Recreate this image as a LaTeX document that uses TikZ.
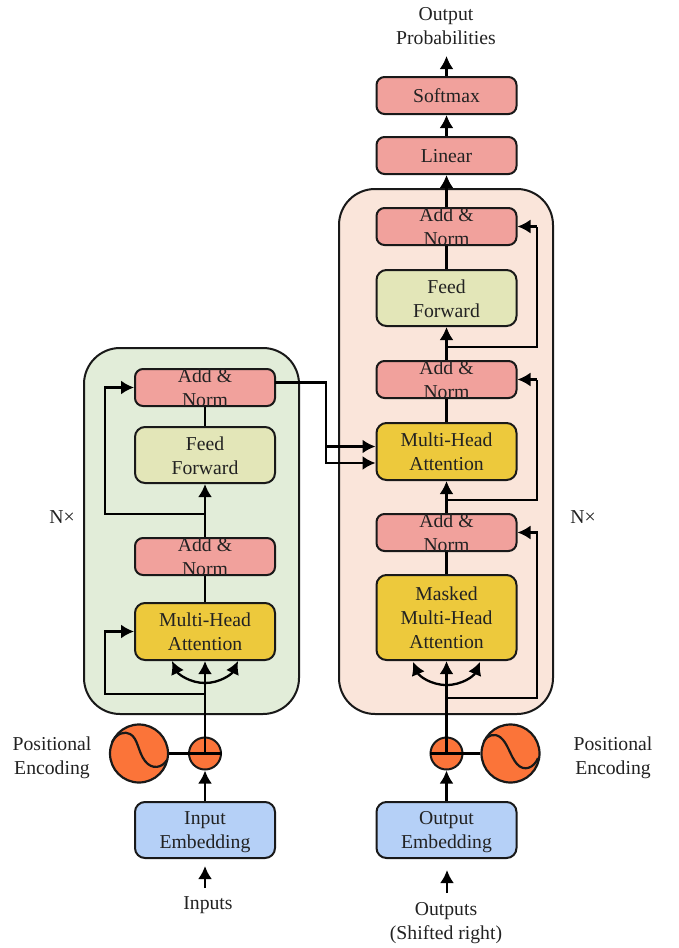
\documentclass[tikz,border=0pt]{standalone}
\usepackage{fontspec}
\setmainfont{Liberation Serif}
\usetikzlibrary{arrows.meta,calc}
\definecolor{greenbg}{HTML}{E2EDD9}
\definecolor{peachbg}{HTML}{FAE5DA}
\definecolor{rednorm}{HTML}{F1A19C}
\definecolor{ffcol}{HTML}{E3E6B8}
\definecolor{attcol}{HTML}{EDC93C}
\definecolor{embcol}{HTML}{B5D0F7}
\definecolor{orangec}{HTML}{FB7439}
\definecolor{txt}{HTML}{222222}
\newcommand{\topst}{\rule{0pt}{18pt}}
\newcommand{\botst}{\rule[-4pt]{0pt}{4pt}}
\tikzset{
  base/.style={draw=black!90,line width=2pt,rounded corners=8pt,minimum width=140pt,
    align=center,font=\fontsize{19.7}{24}\selectfont,text=txt,inner sep=0pt,anchor=center},
  normbox/.style={base,fill=rednorm,minimum height=37pt,inner ysep=-6pt},
  ffbox/.style={base,fill=ffcol,minimum height=56pt,rounded corners=10pt},
  attbox/.style={base,fill=attcol,minimum height=57pt,rounded corners=10pt},
  embbox/.style={base,fill=embcol,minimum height=56pt,rounded corners=10pt},
  region/.style={draw=black!90,line width=2pt,rounded corners=36pt},
  lab/.style={align=center,font=\fontsize{19.7}{24}\selectfont,text=txt,inner sep=0pt},
  conn/.style={draw=black,line width=2.8pt},
  thin/.style={draw=black,line width=2.3pt},
  hair/.style={draw=black,line width=2.4pt},
  arr/.style={conn,-{Latex[length=13pt,width=14pt]}},
  arrs/.style={thin,-{Latex[length=13pt,width=14pt]}},
  addc/.style={circle,draw=black!90,line width=2pt,fill=orangec,minimum size=32pt,inner sep=0pt},
  sinec/.style={circle,draw=black!90,line width=2.2pt,fill=orangec,minimum size=58pt,inner sep=0pt},
}
\begin{document}
\begin{tikzpicture}[x=1pt,y=-1pt]
\useasboundingbox (0,0) rectangle (678,948);
\fill[white] (0,0) rectangle (678,948);
\draw[region,fill=greenbg] (84,348) rectangle (299,714);
\draw[region,fill=peachbg] (339,189) rectangle (553,714);

% left column
\node[normbox] (lan2) at (205,387.5) {\topst Add \&\\Norm\botst};
\node[ffbox] (lff) at (205,455) {\topst Feed\\Forward\botst};
\node[normbox] (lan1) at (205,556.5) {\topst Add \&\\Norm\botst};
\node[attbox] (lma) at (205,631.5) {\topst Multi-Head\\Attention\botst};
\node[embbox] (lemb) at (205,830) {\topst Input\\Embedding\botst};
\node[addc] (ladd) at (205,753.5) {};
\node[sinec] (lsin) at (139,753.5) {};
\node[lab] (linp) at (208,903) {\topst Inputs\botst};
\node[lab] (lpos) at (52,756) {\topst Positional\\Encoding\botst};
\node[lab] (lnx) at (62,516) {\topst N×\botst};

% right column
\node[normbox] (soft) at (446.5,95.5) {\topst Softmax\botst};
\node[normbox] (lin) at (446.5,155.5) {\topst Linear\botst};
\node[normbox] (ran3) at (446.5,226.5) {\topst Add \&\\Norm\botst};
\node[ffbox] (rff) at (446.5,298) {\topst Feed\\Forward\botst};
\node[normbox] (ran2) at (446.5,379.5) {\topst Add \&\\Norm\botst};
\node[attbox] (rma) at (446.5,451.5) {\topst Multi-Head\\Attention\botst};
\node[normbox] (ran1) at (446.5,532.5) {\topst Add \&\\Norm\botst};
\node[attbox,minimum height=85pt] (rmm) at (446.5,617.5) {\topst Masked\\Multi-Head\\Attention\botst};
\node[embbox] (remb) at (446.5,830) {\topst Output\\Embedding\botst};
\node[addc] (radd) at (446.5,753.5) {};
\node[sinec] (rsin) at (510.5,753.5) {};
\node[lab] (routp) at (446,921) {\topst Outputs\\(Shifted right)\botst};
\node[lab] (rpos) at (613,756) {\topst Positional\\Encoding\botst};
\node[lab] (rnx) at (583,516) {\topst N×\botst};
\node[lab] (prob) at (446,25) {\topst Output\\Probabilities\botst};

% free ends
\coordinate (linpt) at (205,888);
\coordinate (rinpt) at (447,893);
\coordinate (probb) at (446.5,56);
\coordinate (lbr) at (205,694);
\coordinate (lbrx) at (105,694);
\coordinate (lres) at (205,514);
\coordinate (lresx) at (105,514);
\coordinate (rbr) at (446.5,698);
\coordinate (rbrx) at (537,698);
\coordinate (r1t) at (446.5,500);
\coordinate (r1x) at (537,500);
\coordinate (r2t) at (446.5,347);
\coordinate (r2x) at (537,347);
\coordinate (lout) at (275,382.5);
\coordinate (lmid) at (326,382.5);

% left connectors
\draw[arr] (linpt) -- (205,866);
\draw[arr] (lemb.north) -- (ladd.south);
\draw[arr] (ladd.center) -- (lma.south);
\draw[hair] (lsin.east) -- (ladd.east);
\draw[hair] (ladd.west) -- (ladd.east);
\draw[arrs] (lbr) -- (lbrx) -- (lbrx |- lma.west) -- (lma.west);
\draw[arrs] (205,683) .. controls (190,683) and (178,674) .. (172,661);
\draw[arrs] (205,683) .. controls (220,683) and (232,674) .. (238,661);
\draw[conn] (lma.north) -- (lan1.south);
\draw[arr] (lan1.north) -- (lff.south);
\draw[conn] (lff.north) -- (lan2.south);
\draw[arrs] (lres) -- (lresx) -- (lresx |- lan2.west) -- (lan2.west);

% left to right
\draw[conn] (lout) -- (lmid) -- (326,446.5);
\draw[arr] (326,446.5) -- (rma.west |- 0,446.5);
\draw[arrs] (326,446.5) -- (326,463) -- (rma.west |- 0,463);

% right connectors
\draw[arr] (rinpt) -- (447,870);
\draw[arr] (remb.north) -- (radd.south);
\draw[arr] (radd.center) -- (rmm.south);
\draw[hair] (rsin.west) -- (radd.east);
\draw[hair] (radd.west) -- (radd.east);
\draw[arrs] (rbr) -- (rbrx) -- (rbrx |- ran1.east) -- (ran1.east);
\draw[arrs] (446.5,685) .. controls (431,685) and (419,676) .. (413,662);
\draw[arrs] (446.5,685) .. controls (462,685) and (474,676) .. (480,662);
\draw[conn] (rmm.north) -- (ran1.south);
\draw[arr] (ran1.north) -- (rma.south);
\draw[thin] (r1t) -- (r1x) -- (r1x |- ran2.east);
\draw[arrs] (r1x |- ran2.east) -- (ran2.east);
\draw[conn] (rma.north) -- (ran2.south);
\draw[arr] (ran2.north) -- (rff.south);
\draw[thin] (r2t) -- (r2x) -- (r2x |- ran3.east);
\draw[arrs] (r2x |- ran3.east) -- (ran3.east);
\draw[conn] (rff.north) -- (ran3.south);
\draw[arr] (ran3.north) -- (lin.south);
\draw[arr] (lin.north) -- (soft.south);
\draw[arr] (soft.north) -- (probb);

% sine curves
\draw[line width=2.2pt,black!90] (112,742) .. controls (117,733) and (125,731) .. (130,734) .. controls (138,738) and (138,752) .. (145,761) .. controls (152,770) and (162,768) .. (167,760);
\draw[line width=2.2pt,black!90] (484,741) .. controls (488,735) and (494,733) .. (500,737) .. controls (508,743) and (510,756) .. (517,764) .. controls (524,772) and (534,768) .. (538,758);
\end{tikzpicture}
\end{document}
